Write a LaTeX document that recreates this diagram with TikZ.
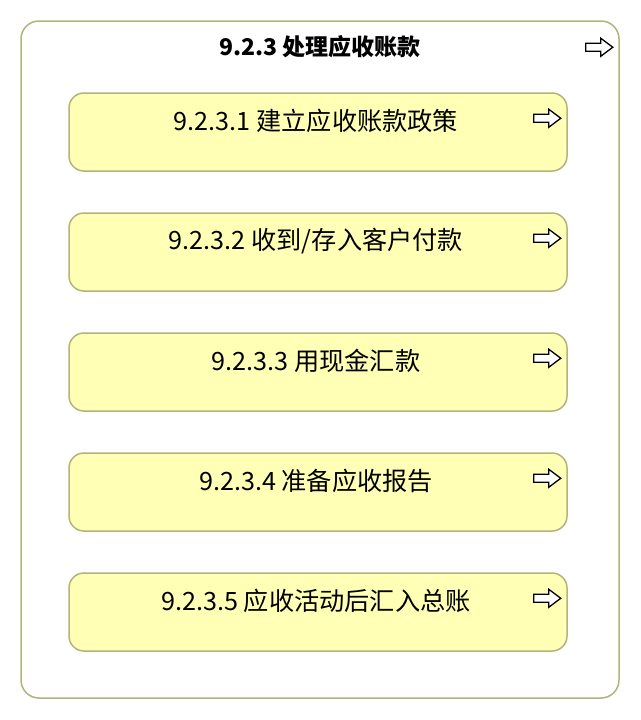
\documentclass[tikz,border=0pt]{standalone}
\usepackage{fontspec}
\setmainfont{Noto Sans CJK SC}
\definecolor{procfill}{HTML}{FFFFB5}
\definecolor{procline}{HTML}{B3B37D}

\tikzset{
  goarrow/.pic={
    \draw[line width=1.3pt,line join=miter,fill=white] (-13.5,-4) -- (1.5,-4) -- (1.5,-9) -- (13.5,0) -- (1.5,9) -- (1.5,4) -- (-13.5,4) -- cycle;
  }
}

\begin{document}
\begin{tikzpicture}[x=1pt,y=-1pt,
    outerbox/.style={draw=procline,line width=1.5pt,rounded corners=18pt,fill=white,minimum width=598pt,minimum height=677pt,inner sep=0pt},
    procbox/.style={draw=procline,line width=1.5pt,rounded corners=15pt,fill=procfill,minimum width=498pt,minimum height=78pt,inner sep=0pt},
    proctext/.style={font=\fontsize{25.2}{29}\selectfont,inner sep=0pt},
    titletext/.style={font=\fontsize{23}{27}\selectfont\bfseries,inner sep=0pt}]
  \useasboundingbox (0,0) rectangle (640,720);

  % outer process
  \node[outerbox] at (320,359.5) (main) {};
  \node[titletext] at ([yshift=-26pt]main.north) (maintitle) {9.2.3 处理应收账款};
  \pic at ([xshift=-20.5pt,yshift=-27pt]main.north east) {goarrow};

  % sub processes
  \node[procbox] at (318,132) (p1) {};
  \node[procbox] at (318,252) (p2) {};
  \node[procbox] at (318,372) (p3) {};
  \node[procbox] at (318,492) (p4) {};
  \node[procbox] at (318,612) (p5) {};

  \node[proctext] at ([xshift=-2pt,yshift=-29pt]p1.north) (t1) {9.2.3.1 建立应收账款政策};
  \node[proctext] at ([xshift=-2pt,yshift=-29pt]p2.north) (t2) {9.2.3.2 收到/存入客户付款};
  \node[proctext] at ([xshift=-2pt,yshift=-29pt]p3.north) (t3) {9.2.3.3 用现金汇款};
  \node[proctext] at ([xshift=-2pt,yshift=-29pt]p4.north) (t4) {9.2.3.4 准备应收报告};
  \node[proctext] at ([xshift=-2pt,yshift=-29pt]p5.north) (t5) {9.2.3.5 应收活动后汇入总账};

  \pic at ([xshift=-20.5pt,yshift=-26pt]p1.north east) {goarrow};
  \pic at ([xshift=-20.5pt,yshift=-26pt]p2.north east) {goarrow};
  \pic at ([xshift=-20.5pt,yshift=-26pt]p3.north east) {goarrow};
  \pic at ([xshift=-20.5pt,yshift=-26pt]p4.north east) {goarrow};
  \pic at ([xshift=-20.5pt,yshift=-26pt]p5.north east) {goarrow};
\end{tikzpicture}
\end{document}
